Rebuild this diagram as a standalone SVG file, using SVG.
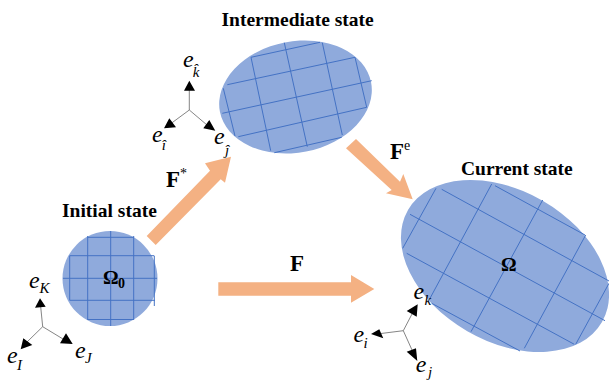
<svg xmlns="http://www.w3.org/2000/svg" width="609" height="381" viewBox="0 0 609 381">
<style>
.body{fill:#8FAADC}
.grid{stroke:#4472C4;stroke-width:1;fill:none}
.arrow{fill:#F4B183}
.axis{stroke:#666;stroke-width:.8;fill:none}
.head{fill:#000}
text{font-family:"Liberation Serif","Times New Roman",serif;fill:#000}
.title{font-size:19.500px;font-weight:bold}
.big{font-size:23px;font-weight:bold}
.sup{font-size:14px}
.om{font-size:19.500px;font-weight:bold}
.e{font-size:24px;font-style:italic}
.s{font-size:15px;font-style:italic}
</style>
<rect width="609" height="381" fill="#fff"/>
<g id="initial-state">
<circle class="body" cx="110" cy="278.500" r="47.500"/>
<path class="grid" d="M87.700 236V320M110.700 231V326M133.700 236V320M154.300 256V306M69.700 255.700V300.300M69.700 255.700H154.300M87.700 237.300H133.700M63 278.300H157M69.700 300.300H155M87.700 319.500H133.700"/>
<text class="title" x="62" y="217">Initial state</text>
<text class="om" x="103" y="283.500">Ω</text><text class="om" x="118" y="288" style="font-size:14px">0</text>
</g>
<g id="intermediate-state">
<ellipse class="body" cx="295.500" cy="97" rx="77" ry="55.600" transform="rotate(-11 295.500 97)"/>
<path class="grid" d="M251 57.300L320 42.300M227.300 84.700L355 57.300M222.300 113.300L371.700 80.700M238.300 136.700L366.700 107.300M274.300 152.700L341.700 137.300M223.300 88.300L235 136M251 57.300L270.700 150.700M284.300 42.700L307.300 146.700M322.300 42.700L342.300 135M355 57.300L366.700 107.300"/>
<text class="title" x="221.500" y="26">Intermediate state</text>
</g>
<g id="current-state">
<ellipse class="body" cx="505" cy="266" rx="112" ry="75.400" transform="rotate(30 505 266)"/>
<path class="grid" d="M441.700 189.300L609 281M495 185.700L585 235M410 214.300L605 320.700M406.700 253.300L574.300 344.300M431.700 303.300L520 351M402.700 248.300L436 188.300M430 298.300L491.700 184M471 331.700L542.700 200M524.300 348.300L585.700 235M575.700 344.300L609 283.300"/>
<text class="title" x="461" y="175">Current state</text>
<text class="om" x="501" y="271">Ω</text>
</g>
<g id="axes-initial">
<path class="axis" d="M42.700 326.700L40.500 305M42.700 326.700L27 342M42.700 326.700L63 339"/>
<path class="head" d="M40 298.300L35 307.700L45.700 306.700ZM20.700 349.300L23.300 338.300L32.300 345ZM72.700 344L60 343.300L66 333.300Z"/>
<text class="e" x="29" y="287.700">e</text><text class="s" x="39.500" y="293">K</text>
<text class="e" x="7" y="363">e</text><text class="s" x="17" y="370">I</text>
<text class="e" x="75" y="357.700">e</text><text class="s" x="85" y="363">J</text>
</g>
<g id="axes-intermediate">
<path class="axis" d="M189.300 110V90M189.300 110L171 123.500M189.300 110L207 125"/>
<path class="head" d="M189.300 80.700L184 90.700H195ZM164 128.300L169.300 118.300L176 127.300ZM215.300 130.700L203.300 128.300L209.300 120Z"/>
<text class="e" x="183" y="67">e</text><text class="s" x="192.700" y="77">k̂</text>
<text class="e" x="152" y="141.700">e</text><text class="s" x="161.700" y="150">î</text>
<text class="e" x="214" y="144">e</text><text class="s" x="225" y="155">ĵ</text>
</g>
<g id="axes-current">
<path class="axis" d="M403.300 330.700L412 314M403.300 330.700L412 350M403.300 330.700L381 333.500"/>
<path class="head" d="M417.700 304.300L406.700 311L416.700 316.700ZM417.300 361L406.700 351.700L416 348.300ZM371 334L379.300 329.300L383.300 338.300Z"/>
<text class="e" x="413.500" y="299">e</text><text class="s" x="424.500" y="305">k</text>
<text class="e" x="353.500" y="342.300">e</text><text class="s" x="363.500" y="347.700">i</text>
<text class="e" x="415.700" y="372.300">e</text><text class="s" x="428" y="377">j</text>
</g>
<g id="connectors">
<path class="arrow" d="M146.700 236L210 170.700L205 163.300L231 156.700L225 182.700L220.700 179.300L155.700 245Z"/>
<path class="arrow" d="M346 148.300L356 139L400 181.700L403.300 174L412.700 199.300L386 193.300L391.700 190Z"/>
<path class="arrow" d="M218.300 282.300H351V275L374.300 289L351 302.700V295.700H218.300Z"/>
<text class="big" x="166" y="186.700">F</text><text class="sup" x="180" y="178">*</text>
<text class="big" x="390" y="159">F</text><text class="sup" x="404" y="150">e</text>
<text class="big" x="290" y="270.700">F</text>
</g>
</svg>
